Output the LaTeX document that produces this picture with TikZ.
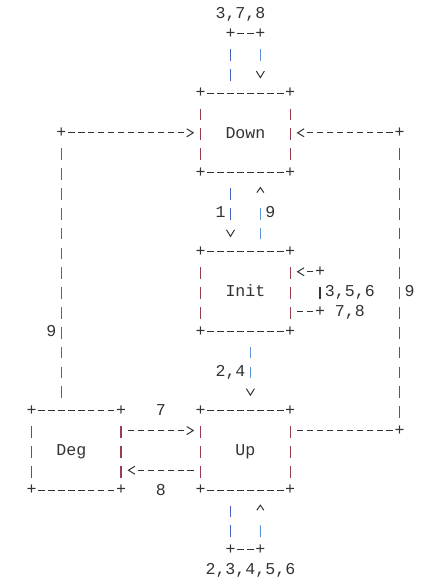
\documentclass[tikz,border=0pt]{standalone}
\usepackage{fontspec}
\setmonofont{Liberation Mono}
\usetikzlibrary{arrows.meta,calc}
\definecolor{ink}{RGB}{51,51,51}
\definecolor{boxred}{RGB}{150,62,78}
\definecolor{lineblue}{RGB}{72,96,196}
\definecolor{skyblue}{RGB}{96,150,220}
\tikzset{
  mono/.style={font=\ttfamily\fontsize{16.6pt}{19.85pt}\selectfont, text=ink},
  state/.style={mono, minimum width=89.55pt, minimum height=79.4pt, inner sep=0pt, outer sep=0pt, text height=10.6pt, text depth=0pt},
  corner/.style={mono, inner sep=0pt, outer sep=0pt},
  lab/.style={mono, inner sep=0pt, anchor=base, yshift=-5.3pt},
  hline/.style={draw=ink, line width=1pt, dash pattern=on 6.5pt off 3.45pt, shorten <=6.7pt, shorten >=6.7pt},
  vline/.style={line width=1.2pt, dash pattern=on 11.7pt off 8.15pt, shorten <=15.5pt, shorten >=12.5pt},
  tipend/.style n args={3}{postaction={draw=ink, line width=1pt, shorten >=#1, dash pattern=on 0pt off 400pt, -{Straight Barb[length=#2, width=#3]}}},
  harrow/.style={hline, shorten >=16.65pt, tipend={6.45pt}{6.5pt}{8pt}},
  vdown/.style={vline, shorten >=32.35pt, tipend={14.55pt}{6.5pt}{8pt}},
  vup/.style={vline, shorten <=12.5pt, shorten >=35.35pt, tipend={14.25pt}{5pt}{7pt}},
}
\begin{document}
\begin{tikzpicture}[x=9.95pt, y=-19.85pt]
\useasboundingbox (-3.166,-0.69) rectangle (41.658,28.832);
\node[state] (down) at (21.5,6) {Down};
\node[state] (init) at (21.5,14) {Init};
\node[state] (up) at (21.5,22) {Up};
\node[state] (deg) at (4.5,22) {Deg\phantom{D}};
\foreach \s in {down,init,up,deg}{
  \node[corner] (\s-nw) at (\s.north west) {+};
  \node[corner] (\s-ne) at (\s.north east) {+};
  \node[corner] (\s-sw) at (\s.south west) {+};
  \node[corner] (\s-se) at (\s.south east) {+};
  \draw[hline] (\s-nw.center) -- (\s-ne.center);
  \draw[hline] (\s-sw.center) -- (\s-se.center);
  \draw[vline, boxred] (\s-nw.center) -- (\s-sw.center);
  \draw[vline, boxred] (\s-ne.center) -- (\s-se.center);
}
\node[corner] (tl) at (20,1) {+};
\node[corner] (tr) at (23,1) {+};
\draw[vline, lineblue] (tl.center) -- (tl.center |- down.north);
\draw[hline] (tl.center) -- (tr.center);
\draw[vdown, skyblue] (tr.center) -- (tr.center |- down.north);
\node[lab] (l378) at (21,0) {3,7,8};
\draw[vdown, lineblue] ($(down.south)+(-1.5,0)$) -- ($(init.north)+(-1.5,0)$);
\draw[vup, skyblue] ($(init.north)+(1.5,0)$) -- ($(down.south)+(1.5,0)$);
\node[lab] (l1) at (19,10) {1};
\node[lab] (l9a) at (24,10) {9};
\node[corner] (it) at (29,13) {+};
\node[corner] (ib) at (29,15) {+};
\draw[hline] ($(init.east)+(0,1)$) -- (ib.center);
\draw[vline, ink] (it.center) -- (ib.center);
\draw[harrow] (it.center) -- ($(init.east)+(0,-1)$);
\node[lab] (l356) at (32,14) {3,5,6};
\node[lab] (l78) at (32,15) {7,8};
\draw[vdown, skyblue] ($(init.south)+(0.5,0)$) -- ($(up.north)+(0.5,0)$);
\node[lab] (l24) at (20,18) {2,4};
\draw[harrow] ($(deg.east)+(0,-1)$) -- ($(up.west)+(0,-1)$);
\draw[harrow] ($(up.west)+(0,1)$) -- ($(deg.east)+(0,1)$);
\node[lab] (l7) at (13,20) {7};
\node[lab] (l8) at (13,24) {8};
\node[corner] (rt) at (37,6) {+};
\node[corner] (rb) at (37,21) {+};
\draw[hline] ($(up.east)+(0,-1)$) -- (rb.center);
\draw[vline, boxred] (rt.center) -- (rb.center);
\draw[harrow] (rt.center) -- (down.east);
\node[lab] (l9b) at (38,14) {9};
\node[corner] (lt) at (3,6) {+};
\draw[vline, lineblue] (lt.center) -- (lt.center |- deg.north);
\draw[harrow] (lt.center) -- (down.west);
\node[lab] (l9c) at (2,16) {9};
\node[corner] (bl) at (20,27) {+};
\node[corner] (br) at (23,27) {+};
\draw[vline, lineblue] ($(up.south)+(-1.5,0)$) -- (bl.center);
\draw[hline] (bl.center) -- (br.center);
\draw[vup, skyblue] (br.center) -- ($(up.south)+(1.5,0)$);
\node[lab] (l23456) at (22,28) {2,3,4,5,6};
\end{tikzpicture}
\end{document}
